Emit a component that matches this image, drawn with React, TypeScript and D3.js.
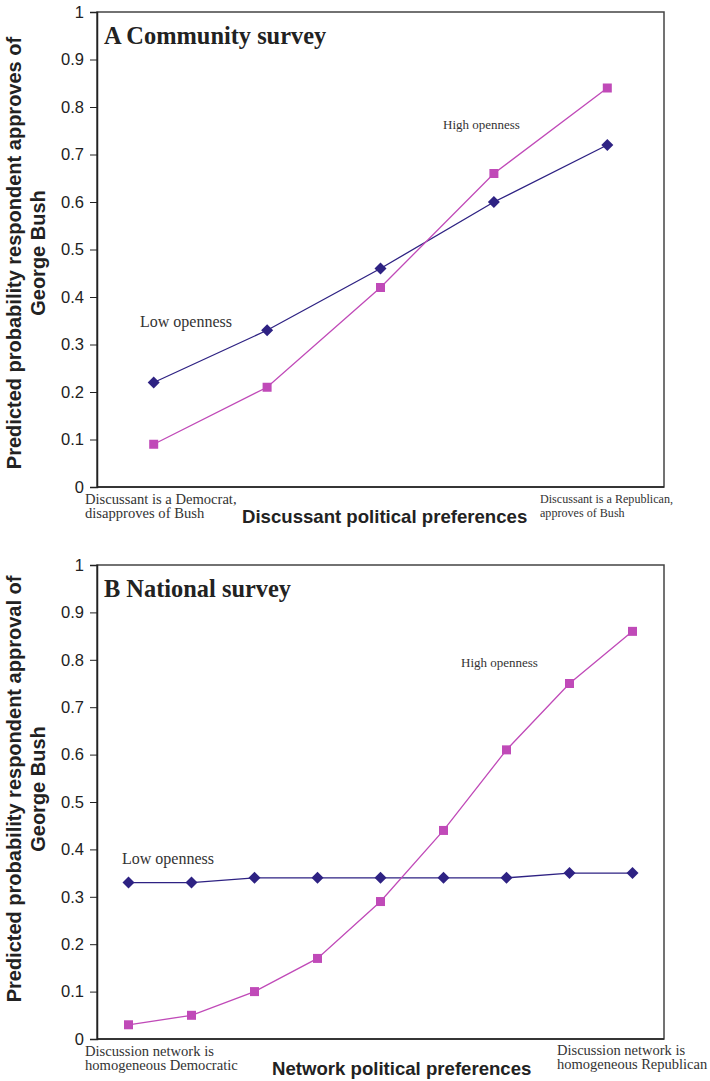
import React, { useEffect, useRef } from 'react';
import * as d3 from 'd3';

// Panel A: community survey (5 categories)
const communityCats = ['c1', 'c2', 'c3', 'c4', 'c5'];
const communityLow = [0.22, 0.33, 0.46, 0.6, 0.72];
const communityHigh = [0.09, 0.21, 0.42, 0.66, 0.84];

// Panel B: national survey (9 categories)
const nationalCats = ['n1', 'n2', 'n3', 'n4', 'n5', 'n6', 'n7', 'n8', 'n9'];
const nationalLow = [0.33, 0.33, 0.34, 0.34, 0.34, 0.34, 0.34, 0.35, 0.35];
const nationalHigh = [0.03, 0.05, 0.1, 0.17, 0.29, 0.44, 0.61, 0.75, 0.86];

const yTicks = [0, 0.1, 0.2, 0.3, 0.4, 0.5, 0.6, 0.7, 0.8, 0.9, 1];

const NAVY = '#2e2283';
const MAGENTA = '#c04ab8';
const SANS = '"Liberation Sans", Arial, sans-serif';
const SERIF = '"Liberation Serif", "Times New Roman", serif';

type Panel = {
  top: number;
  bottom: number;
  title: string;
  cats: string[];
  low: number[];
  high: number[];
  yTitle: string[];
  yTitleCenter: number;
  xTitle: string;
  xTitleX: number;
  leftLabel: string[];
  rightLabel: string[];
  leftLabelSize: number;
  rightLabelSize: number;
  rightLabelX: number;
  lowPos: [number, number];
  highPos: [number, number];
};

const panels: Panel[] = [
  {
    top: 12,
    bottom: 487,
    title: 'A Community survey',
    cats: communityCats,
    low: communityLow,
    high: communityHigh,
    yTitle: ['Predicted probability respondent approves of', 'George Bush'],
    yTitleCenter: 253,
    xTitle: 'Discussant political preferences',
    xTitleX: 242,
    leftLabel: ['Discussant is a Democrat,', 'disapproves of Bush'],
    rightLabel: ['Discussant is a Republican,', 'approves of Bush'],
    leftLabelSize: 14.6,
    rightLabelSize: 12.1,
    rightLabelX: 540,
    lowPos: [140, 327],
    highPos: [443, 129],
  },
  {
    top: 565,
    bottom: 1039,
    title: 'B National survey',
    cats: nationalCats,
    low: nationalLow,
    high: nationalHigh,
    yTitle: ['Predicted probability respondent approval of', 'George Bush'],
    yTitleCenter: 789,
    xTitle: 'Network political preferences',
    xTitleX: 272,
    leftLabel: ['Discussion network is', 'homogeneous Democratic'],
    rightLabel: ['Discussion network is', 'homogeneous Republican'],
    leftLabelSize: 14.6,
    rightLabelSize: 14.5,
    rightLabelX: 557,
    lowPos: [122, 864],
    highPos: [461, 667],
  },
];

const left = 97;
const right = 664;

const OpennessChart = () => {
  const ref = useRef<SVGSVGElement>(null);

  useEffect(() => {
    if (!ref.current) return;
    const svg = d3.select(ref.current);
    svg.selectAll('*').remove();

    panels.forEach((p) => {
      const g = svg.append('g');
      const x = d3.scaleBand<string>().domain(p.cats).range([left, right]).padding(0);
      const y = d3.scaleLinear().domain([0, 1]).range([p.bottom, p.top]);
      const cx = (i: number) => (x(p.cats[i]) as number) + x.bandwidth() / 2;

      // frame
      g.append('rect')
        .attr('x', left)
        .attr('y', p.top)
        .attr('width', right - left)
        .attr('height', p.bottom - p.top)
        .attr('fill', 'none')
        .attr('stroke', '#444')
        .attr('stroke-width', 1.5);

      // y axis
      const yAxis = g.append('g')
        .attr('transform', `translate(${left},0)`)
        .call(d3.axisLeft(y).tickValues(yTicks).tickSize(7).tickPadding(6).tickFormat((d) => d3.format('')(+d)));
      yAxis.select('.domain').attr('stroke', '#222').attr('stroke-width', 1.5);
      yAxis.selectAll('line').attr('stroke', '#222');
      yAxis.selectAll('text')
        .attr('font-family', SANS)
        .attr('font-size', 16.5)
        .attr('fill', '#222');

      // x axis line
      g.append('line')
        .attr('x1', left)
        .attr('x2', right)
        .attr('y1', p.bottom)
        .attr('y2', p.bottom)
        .attr('stroke', '#222')
        .attr('stroke-width', 1.5);

      // series lines
      const line = d3.line<number>()
        .x((_, i) => cx(i))
        .y((d) => y(d));

      g.append('path')
        .attr('d', line(p.low) as string)
        .attr('fill', 'none')
        .attr('stroke', NAVY)
        .attr('stroke-width', 1.3);
      g.append('path')
        .attr('d', line(p.high) as string)
        .attr('fill', 'none')
        .attr('stroke', MAGENTA)
        .attr('stroke-width', 1.3);

      // diamonds
      g.selectAll('.diamond')
        .data(p.low)
        .enter()
        .append('path')
        .attr('class', 'diamond')
        .attr('transform', (d, i) => `translate(${cx(i)},${y(d)})`)
        .attr('d', 'M0,-6L6,0L0,6L-6,0Z')
        .attr('fill', NAVY);

      // squares
      g.selectAll('.square')
        .data(p.high)
        .enter()
        .append('rect')
        .attr('class', 'square')
        .attr('x', (_, i) => cx(i) - 4.5)
        .attr('y', (d) => y(d) - 4.5)
        .attr('width', 9)
        .attr('height', 9)
        .attr('fill', MAGENTA);

      // panel title
      g.append('text')
        .attr('x', 104)
        .attr('y', p.top + 32)
        .attr('font-family', SERIF)
        .attr('font-weight', 'bold')
        .attr('font-size', 24.4)
        .attr('fill', '#222')
        .text(p.title);

      // series labels
      g.append('text')
        .attr('x', p.lowPos[0])
        .attr('y', p.lowPos[1])
        .attr('font-family', SERIF)
        .attr('font-size', 16)
        .attr('fill', '#333')
        .text('Low openness');
      g.append('text')
        .attr('x', p.highPos[0])
        .attr('y', p.highPos[1])
        .attr('font-family', SERIF)
        .attr('font-size', 13)
        .attr('fill', '#333')
        .text('High openness');

      // y title
      const yt = g.append('text')
        .attr('transform', `translate(21,${p.yTitleCenter}) rotate(-90)`)
        .attr('text-anchor', 'middle')
        .attr('font-family', SANS)
        .attr('font-weight', 'bold')
        .attr('font-size', 20)
        .attr('fill', '#222');
      yt.append('tspan').attr('x', 0).attr('y', 0).text(p.yTitle[0]);
      yt.append('tspan').attr('x', 0).attr('y', 24).text(p.yTitle[1]);

      // x title
      g.append('text')
        .attr('x', p.xTitleX)
        .attr('y', p.bottom + 36)
        .attr('font-family', SANS)
        .attr('font-weight', 'bold')
        .attr('font-size', 18.6)
        .attr('fill', '#222')
        .text(p.xTitle);

      // end category labels
      const ll = g.append('text')
        .attr('font-family', SERIF)
        .attr('font-size', p.leftLabelSize)
        .attr('fill', '#333');
      p.leftLabel.forEach((s, i) => {
        ll.append('tspan').attr('x', 85).attr('y', p.bottom + 17 + i * 14).text(s);
      });
      const rl = g.append('text')
        .attr('font-family', SERIF)
        .attr('font-size', p.rightLabelSize)
        .attr('fill', '#333');
      p.rightLabel.forEach((s, i) => {
        rl.append('tspan').attr('x', p.rightLabelX).attr('y', p.bottom + 16 + i * 14).text(s);
      });
    });
  }, []);

  return (
    <svg
      ref={ref}
      width={710}
      height={1081}
      style={{ position: 'absolute', left: 0, top: 0, background: '#fff' }}
    />
  );
};

export default function App() {
  return <OpennessChart />;
}
